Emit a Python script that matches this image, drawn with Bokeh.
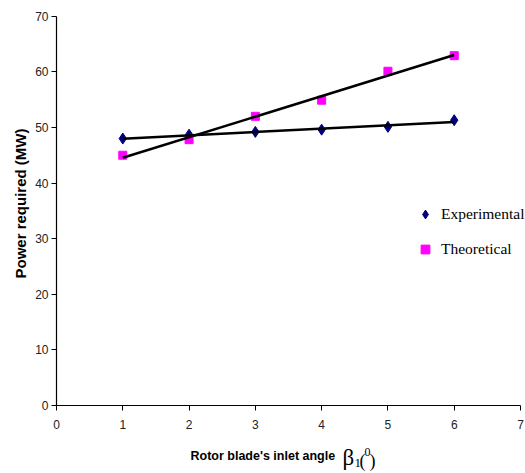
import numpy as np
from bokeh.plotting import figure
from bokeh.models import FixedTicker, Label, Legend, LegendItem, Range1d
from bokeh.embed import file_html
from bokeh.resources import INLINE

# ---- data ----
beta_angle = [1, 2, 3, 4, 5, 6]
experimental = [48.0, 48.7, 49.2, 49.6, 50.1, 51.3]
theoretical = [45.0, 47.8, 52.0, 54.9, 60.1, 62.9]
x_ticks = [0, 1, 2, 3, 4, 5, 6, 7]
y_ticks = [0, 10, 20, 30, 40, 50, 60, 70]

W, H = 525, 473
# pixel placement of the plotting area (axes drawn at fixed data locations)
AX_LEFT, AX_RIGHT, AX_TOP, AX_BOTTOM = 56.0, 520.0, 15.7, 405.0
XMIN, XMAX, YMIN, YMAX = 0.0, 7.0, 0.0, 70.0
sx = (AX_RIGHT - AX_LEFT) / (XMAX - XMIN)
sy = (AX_BOTTOM - AX_TOP) / (YMAX - YMIN)
x_range = Range1d(XMIN - AX_LEFT / sx, XMAX + (W - AX_RIGHT) / sx)
y_range = Range1d(YMIN - (H - AX_BOTTOM) / sy, YMAX + AX_TOP / sy)

p = figure(width=W, height=H, output_backend="svg", toolbar_location=None,
           x_range=x_range, y_range=y_range,
           min_border_left=0, min_border_right=0, min_border_top=0, min_border_bottom=0)
p.outline_line_color = None
p.grid.visible = False
p.background_fill_color = "white"
p.border_fill_color = "white"

p.xaxis[0].fixed_location = YMIN
p.yaxis[0].fixed_location = XMIN
p.xaxis[0].bounds = (XMIN, XMAX)
p.yaxis[0].bounds = (YMIN, YMAX)

for ax in (p.xaxis[0], p.yaxis[0]):
    ax.axis_line_color = "black"
    ax.axis_line_width = 1.2
    ax.major_tick_line_color = "black"
    ax.major_tick_out = 5
    ax.major_tick_in = 0
    ax.minor_tick_line_color = None
    ax.major_label_text_font = "Liberation Sans"
    ax.major_label_text_font_size = "12px"
    ax.major_label_text_color = "#222222"

p.xaxis[0].ticker = FixedTicker(ticks=x_ticks)
p.yaxis[0].ticker = FixedTicker(ticks=y_ticks)
p.xaxis[0].major_label_standoff = 9
p.yaxis[0].major_label_standoff = 3

# markers
r_exp = p.scatter(beta_angle, experimental, marker="diamond", size=11,
                  fill_color="#000080", line_color="#000080")
r_th = p.scatter(beta_angle, theoretical, marker="square", size=8,
                 fill_color="#FF00FF", line_color="#FF00FF")

# linear trend lines
xs = np.array([beta_angle[0], beta_angle[-1]], dtype=float)
for ys in (experimental, theoretical):
    k, b = np.polyfit(beta_angle, ys, 1)
    p.line(xs, k * xs + b, line_color="black", line_width=2.5)

legend = Legend(items=[LegendItem(label="Experimental", renderers=[r_exp]),
                       LegendItem(label="Theoretical", renderers=[r_th])],
                location=(414, H - 260), orientation="vertical",
                padding=0, margin=0, spacing=13,
                glyph_width=22, glyph_height=22, label_height=22,
                label_standoff=5,
                label_text_font="Liberation Serif", label_text_font_size="15.5px",
                label_text_color="black",
                border_line_color=None, background_fill_alpha=0)
p.add_layout(legend)


def screen_label(x, y, text, **kw):
    """x, y in pixels from the top-left corner of the picture."""
    p.add_layout(Label(x=x, y=H - y, x_units="screen", y_units="screen",
                       text=text, text_color="black", **kw))


# axis titles
screen_label(20, 203, "Power required (MW)", angle=np.pi / 2,
             text_align="center", text_baseline="middle",
             text_font="Liberation Sans", text_font_style="bold", text_font_size="15px")
screen_label(190, 455, "Rotor blade's inlet angle",
             text_align="left", text_baseline="middle",
             text_font="Liberation Sans", text_font_style="bold", text_font_size="12.5px")
screen_label(342, 457, "β", text_align="left", text_baseline="middle",
             text_font="Liberation Serif", text_font_size="23px")
screen_label(354, 462, "1", text_align="left", text_baseline="middle",
             text_font="Liberation Serif", text_font_size="13px")
screen_label(359, 460, "(", text_align="left", text_baseline="middle",
             text_font="Liberation Serif", text_font_size="18px")
screen_label(364, 451, "0", text_align="left", text_baseline="middle",
             text_font="Liberation Serif", text_font_size="12px")
screen_label(369, 460, ")", text_align="left", text_baseline="middle",
             text_font="Liberation Serif", text_font_size="18px")

open("out.html", "w").write(file_html(p, INLINE))
